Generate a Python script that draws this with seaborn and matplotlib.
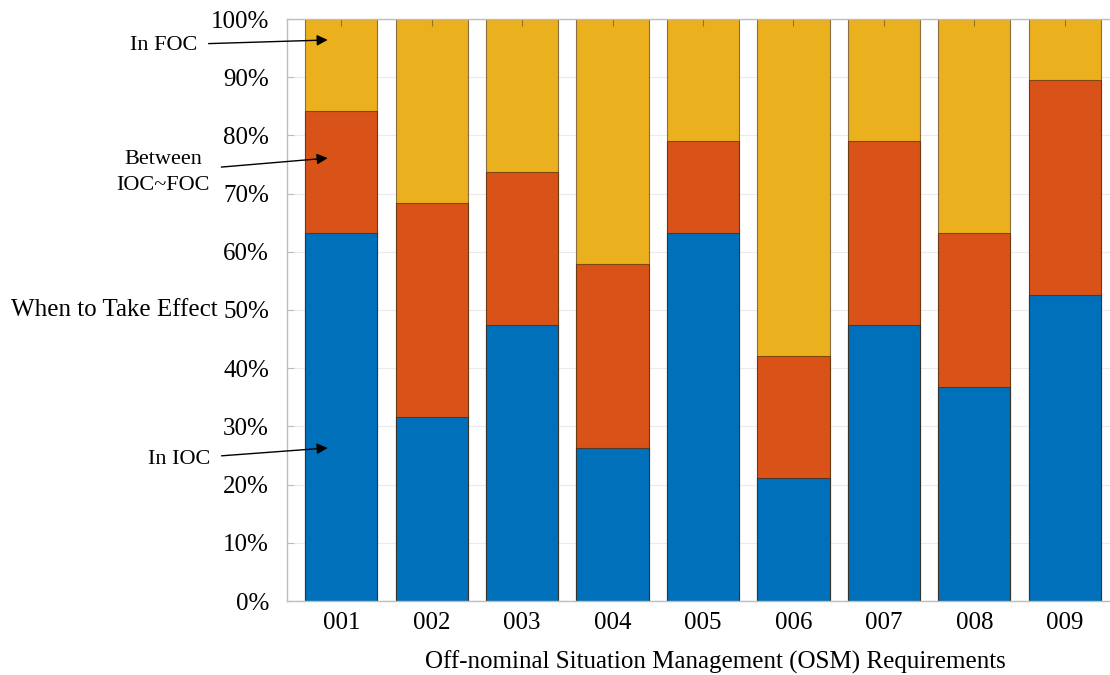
import matplotlib
matplotlib.use("Agg")
import matplotlib.pyplot as plt
import seaborn as sns
import pandas as pd

# data (percent of requirements)
requirements = ["001", "002", "003", "004", "005", "006", "007", "008", "009"]
in_ioc = [63.2, 31.6, 47.4, 26.3, 63.2, 21.1, 47.4, 36.8, 52.6]
between_ioc_foc = [21.0, 36.8, 26.3, 31.6, 15.8, 21.0, 31.6, 26.4, 36.9]
in_foc = [15.8, 31.6, 26.3, 42.1, 21.0, 57.9, 21.0, 36.8, 10.5]

yticks = [0, 10, 20, 30, 40, 50, 60, 70, 80, 90, 100]

sns.set_style("white")
plt.rcParams["font.family"] = ["Liberation Serif", "DejaVu Serif"]
plt.rcParams["text.color"] = "black"
plt.rcParams["axes.labelcolor"] = "black"

df = pd.DataFrame({"req": requirements, "ioc": in_ioc,
                   "mid": between_ioc_foc, "foc": in_foc})
df["lvl1"] = df["ioc"]
df["lvl2"] = df["ioc"] + df["mid"]
df["lvl3"] = df["lvl2"] + df["foc"]

fig = plt.figure(figsize=(11.1, 6.75), dpi=100)
W, H = 1110, 675
ax = fig.add_axes([287 / W, (H - 601) / H, (1119 - 287) / W, (601 - 19) / H])

edge = (0.2, 0.1, 0.0, 0.55)
# stacked look: draw the cumulative totals on top of each other
sns.barplot(data=df, x="req", y="lvl3", color="#EBB01E", saturation=1,
            width=0.8, edgecolor=edge, linewidth=0.8, ax=ax, zorder=2)
sns.barplot(data=df, x="req", y="lvl2", color="#D95319", saturation=1,
            width=0.8, edgecolor=edge, linewidth=0.8, ax=ax, zorder=3)
sns.barplot(data=df, x="req", y="lvl1", color="#0070BA", saturation=1,
            width=0.8, edgecolor=edge, linewidth=0.8, ax=ax, zorder=4)

ax.set_xlim(-0.6, 8.6)
ax.set_ylim(0, 100)
ax.set_yticks(yticks)
ax.set_yticklabels([f"{t}%" for t in yticks])

for t in yticks:
    ax.axhline(t, color="#ebebeb", lw=0.8, zorder=0)

for s in ax.spines.values():
    s.set_color("#bdbdbd")
    s.set_linewidth(1.0)
    s.set_zorder(6)

ax.tick_params(axis="x", direction="in", top=True, bottom=True, length=5,
               color=(0, 0, 0, 0.35), labelsize=18, labelcolor="black", pad=8)
ax.tick_params(axis="y", direction="in", left=True, length=5,
               color=(0, 0, 0, 0.2), labelsize=18, labelcolor="black", pad=13)
for tk in ax.xaxis.get_major_ticks():
    tk.tick1line.set_zorder(7)
    tk.tick2line.set_zorder(7)
ax.set_axisbelow(False)

ax.set_xlabel("Off-nominal Situation Management (OSM) Requirements",
              fontsize=18, va="center")
ax.xaxis.set_label_coords((715 - 287) / 832, (601 - 662) / 582)
ax.set_ylabel("When to Take Effect", fontsize=18, rotation=0,
              ha="right", va="center")
ax.yaxis.set_label_coords((218 - 287) / 832, 0.5)

arrow = dict(arrowstyle="-|>", color="black", lw=1.0, mutation_scale=16,
             shrinkA=6, shrinkB=0)
notes = [("In FOC", 197, 45, 96.4, "right"),
         ("Between\nIOC~FOC", 163, 172, 76.1, "center"),
         ("In IOC", 210, 459, 26.3, "right")]
for label, tx, ty, yv, ha in notes:
    ax.annotate(label, xy=(-0.15, yv), xycoords="data",
                xytext=(tx, H - ty), textcoords="figure pixels",
                ha=ha, va="center", fontsize=16, linespacing=1.5,
                arrowprops=arrow, annotation_clip=False, zorder=8)

fig.savefig("out.png", dpi=100)
